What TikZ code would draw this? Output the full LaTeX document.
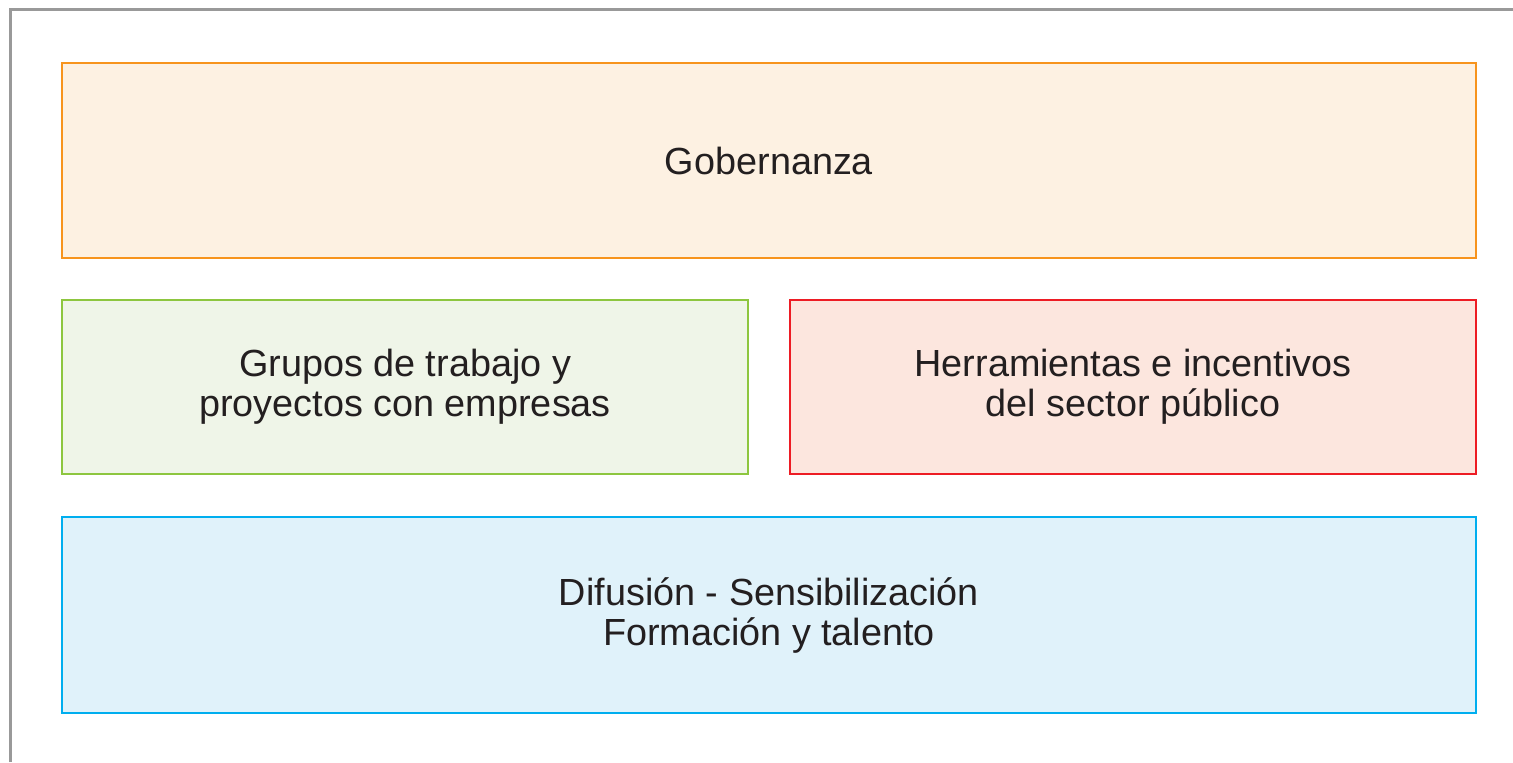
\documentclass[tikz,border=0pt]{standalone}
\usepackage{fontspec}
\setmainfont{Liberation Sans}
\usepackage{xcolor}
\definecolor{naranja}{RGB}{247, 148, 29}
\definecolor{naranjaclaro}{RGB}{253, 241, 226}
\definecolor{verde}{RGB}{141, 198, 63}
\definecolor{verdeclaro}{RGB}{239, 245, 232}
\definecolor{rojo}{RGB}{237, 28, 36}
\definecolor{rojoclaro}{RGB}{252, 230, 222}
\definecolor{azul}{RGB}{0, 174, 239}
\definecolor{azulclaro}{RGB}{224, 242, 250}
\definecolor{marco}{RGB}{153, 153, 153}
\definecolor{texto}{RGB}{35, 31, 32}
\usepackage{tikz}
\usetikzlibrary{positioning}

\begin{document}
\begin{tikzpicture}[x=0.5pt, y=-0.5pt,
    caja/.style={line width=1pt, align=center, inner sep=0pt,
      text=texto, font=\fontsize{18.9}{20}\selectfont}]
            \useasboundingbox (0,0) rectangle (1513,762);

            % Marco
            \draw[marco, line width=1.5pt] (10.5,762) -- (10.5,9.5) -- (1513,9.5);

            % Gobernanza
            \node[caja, draw=naranja, fill=naranjaclaro, minimum width=707pt, minimum height=97.5pt]
              (gob) at (769,160.5) {Gobernanza};

            % Grupos y herramientas
            \node[caja, draw=verde, fill=verdeclaro, minimum width=343pt, minimum height=87pt]
              (grupos) at (405,387) {Grupos de trabajo y\\proyectos con empresas};
            \node[caja, draw=rojo, fill=rojoclaro, minimum width=343pt, minimum height=87pt]
              (herram) at (1133,387) {Herramientas e incentivos\\del sector público};

            % Difusion
            \node[caja, draw=azul, fill=azulclaro, minimum width=707pt, minimum height=98pt]
              (difusion) at (769,615) {Difusión - Sensibilización\\Formación y talento};
        \end{tikzpicture}
\end{document}
